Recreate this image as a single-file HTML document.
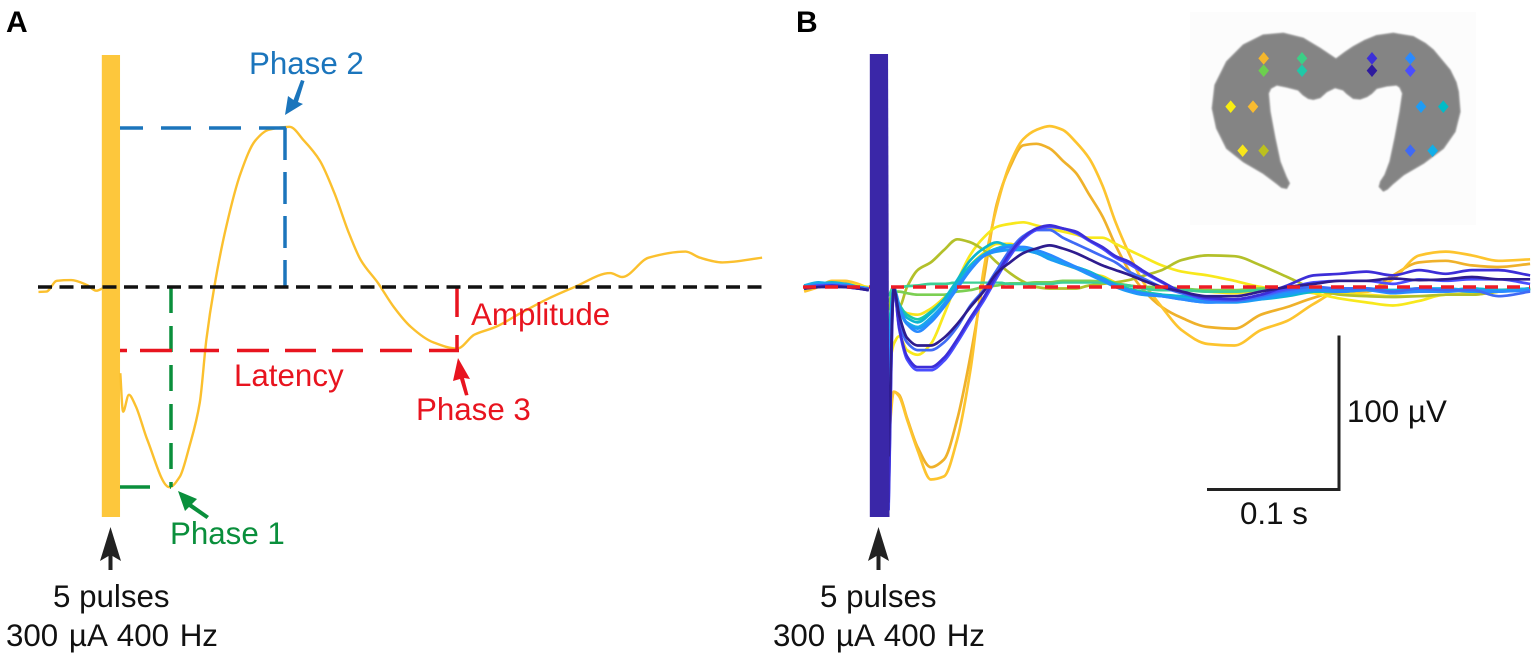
<!DOCTYPE html>
<html lang="en">
<head>
<meta charset="utf-8">
<title>Evoked potentials</title>
<style>
html,body{margin:0;padding:0;background:#fff;width:1535px;height:660px;overflow:hidden}
svg{display:block}
text{font-family:"Liberation Sans",Arial,sans-serif;font-size:31.3px}
</style>
</head>
<body>
<svg id="chart" xmlns="http://www.w3.org/2000/svg" width="1535" height="660" viewBox="0 0 1535 660">
<defs>
<filter id="soft" x="-5%" y="-5%" width="110%" height="110%"><feGaussianBlur stdDeviation="0.35"/></filter>
<filter id="softShape" x="-5%" y="-5%" width="110%" height="110%"><feGaussianBlur stdDeviation="2.4"/></filter>
</defs>

<g>
<rect x="1190" y="12" width="286" height="213" fill="#fcfcfc"/>
<g transform="translate(1180,5) scale(0.3333)">
<path fill="#848484" stroke="#929292" stroke-width="4" stroke-linejoin="round" filter="url(#softShape)" d="M468 162 L495 142 L520 125 L555 106 L590 92 L640 85 L700 95 L735 115 L760 135 L810 195 L828 232 L835 260 L840 320 L825 380 L790 430 L730 475 L670 510 L640 535 L622 552 L610 558 L598 545 L602 530 L615 510 L630 470 L645 400 L660 320 L668 265 L660 247 L650 240 L620 243 L590 250 L575 265 L560 275 L540 282 L520 280 L500 265 L490 255 L465 248 L440 260 L420 278 L400 283 L385 280 L370 270 L355 255 L320 246 L290 240 L272 250 L265 265 L270 320 L285 400 L300 470 L318 515 L328 535 L320 550 L305 547 L290 535 L250 505 L190 470 L140 430 L110 370 L97 310 L105 240 L140 170 L190 120 L250 90 L310 85 L370 100 L420 130 Z"/>
<g stroke="none">
<path fill="#f4b62c" d="M251 141l16 19l-16 19l-16-19z"/>
<path fill="#6cd04e" d="M251 178l16 19l-16 19l-16-19z"/>
<path fill="#3ccf86" d="M366 141l16 19l-16 19l-16-19z"/>
<path fill="#1fc8a8" d="M366 178l16 19l-16 19l-16-19z"/>
<path fill="#3c2fd8" d="M576 141l16 19l-16 19l-16-19z"/>
<path fill="#2e1a9e" d="M576 178l16 19l-16 19l-16-19z"/>
<path fill="#2a8aff" d="M691 141l16 19l-16 19l-16-19z"/>
<path fill="#4a4eff" d="M691 178l16 19l-16 19l-16-19z"/>
<path fill="#f8ee10" d="M152 286l16 19l-16 19l-16-19z"/>
<path fill="#f9bb30" d="M219 286l16 19l-16 19l-16-19z"/>
<path fill="#1e9cf5" d="M723 286l16 19l-16 19l-16-19z"/>
<path fill="#00bcc8" d="M790 286l16 19l-16 19l-16-19z"/>
<path fill="#f8e61a" d="M188 418l16 19l-16 19l-16-19z"/>
<path fill="#bcc01e" d="M251 418l16 19l-16 19l-16-19z"/>
<path fill="#3f6af5" d="M691 418l16 19l-16 19l-16-19z"/>
<path fill="#12aee8" d="M758 418l16 19l-16 19l-16-19z"/>
</g>
</g>
</g>

<g id="layerA"></g>

<g fill="none" stroke-width="3.5">
<path stroke="#1b75bc" stroke-dasharray="23 18 30 18 32 18 30 0" d="M120 128H286"/>
<path stroke="#1b75bc" stroke-dasharray="32 12" d="M285 128V287"/>
<path stroke="#0a8f3c" stroke-dasharray="30 20" d="M120 487H171"/>
<path stroke="#0a8f3c" stroke-dasharray="26 13" d="M171 287V487"/>
<path stroke="#e8141f" stroke-dasharray="7 13 32 18 29 18 32 16 31 16 31 17 32 17 30 0" d="M120 350.5H459"/>
<path stroke="#e8141f" stroke-dasharray="30 18 16 0" d="M457 287V351"/>
<path stroke="#111" stroke-dasharray="14 7.5" d="M38 287H762"/>
</g>

<g>
<path fill="#1b75bc" d="M285 115L288 96L293.5 100L301 80L304.500 81L298 102L303 104Z"/>
<path fill="#0a8f3c" d="M178 491L197 499L192 504L209 516L206.500 519L189 507L185 511Z"/>
<path fill="#e8141f" d="M458 358L470 379L464 378L468.500 395L465 395.500L460 379L453 381Z"/>
<path fill="#222" d="M110.500 527L121 561L112.500 556V570H108.500V556L100 561Z"/>
</g>

<g>
<text x="6" y="32" font-weight="bold" style="font-size:30px" fill="#000">A</text>
<text x="249" y="74" fill="#1b75bc">Phase 2</text>
<text x="471" y="325" fill="#e8141f">Amplitude</text>
<text x="234" y="386" fill="#e8141f">Latency</text>
<text x="416" y="420" fill="#e8141f">Phase 3</text>
<text x="170" y="544" fill="#0a8f3c">Phase 1</text>
<text x="53" y="607" fill="#111">5 pulses</text>
<text x="6" y="646" fill="#111" style="word-spacing:2px">300 µA 400 Hz</text>
</g>

<g id="layerB"></g>

<g>
<path fill="#222" d="M878.500 527L889 561L880.500 556V570H876.500V556L868 561Z"/>
<text x="796" y="32" font-weight="bold" style="font-size:30px" fill="#000">B</text>
<text x="820" y="607" fill="#111">5 pulses</text>
<text x="773" y="646" fill="#111" style="word-spacing:2px">300 µA 400 Hz</text>
<text x="1347" y="422" fill="#111">100 µV</text>
<text x="1240" y="524" fill="#111">0.1 s</text>
</g>
</svg>

<script>
// Panel A: representative trace (time in ms after stimulus, amplitude in µV)
const aTime = [-54.2,-48.2,-40.3,-29.4,-17.5,-10.5,-3.6,7.8,9.9,14.3,19.3,28.2,45,53,60,68,73,79,88,99,110,120,136,147,159,170,181,190,203,215,228,245,263,276,292,311,330,352,379,388,408,436,447,464,494];
const aValue = [-3.2,-3,4,4.5,1.3,-2.4,0,-56,-81,-70,-77,-99,-130,-123,-104,-75,-34,0,39,74,95,102,104,95,82,61,35,17.5,2.6,-13,-26,-36,-40,-31,-26,-17,-8.4,0,9,6.5,19,23,19,16,19];

// Panel B: shared time grid (ms)
const bTime = [-56,-45,-35,-25,-15,-7,8,12,16,22,30,40,50,60,70,80,90,100,110,120,130,140,150,160,170,180,190,200,215,230,250,270,290,310,330,350,370,390,410,430,450,470,494];

// Panel B: one amplitude array (µV) per electrode
const amberLow = [-2,1,3,3,1,-1,-91,-68,-70,-85,-104,-117,-112,-86,-45,4.5,54,78,92,93,90,82,74,60,46,27,11,-1,-13,-20,-26,-27,-18,-13,-7,-3,-3,7.5,16,17,14,13,15];
const amberHigh = [-3,0,4,4,2,-1,-101,-68,-71,-86,-106,-125,-123,-99,-54,11,52,80,96,102,104.5,102,94,83.5,66,42,22,4.5,-13,-28,-37,-38,-28,-22,-11,-3,-3,5,20.5,23,20.5,17,18];
const yellowA = [-1,1,2,2,1,0,-54,-37,-32,-41,-44,-37,-18,3.5,21,32,39,41,42,40,38,36,34,32,32,28,24,20,14,10,7.5,4,0,-2,-4,-7.5,-10,-12,-9,-5,-5,-3,-1];
const yellowB = [0,1,1,2,0,-1,-32,-6,-13,-17,-18,-14,-7,1,14,22,28,28,25,22,19,15,12,9,7,3,1,0,-2,-2,-3,-4,-2,-1,-1,-4,-5,-6,-6,-5,-4,-2,-1];
const oliveTrace = [-1,0,1,1,0,-1,-15,-3,-13,0,11,16,24,31,29,24,16,9,3.5,0,-1,-1,-1,1,2,3,4.5,7,11,17.5,20.5,20,14,6.5,-1,-5,-6,-6.500,-6,-5,-5,-3,-1];
const lightGreen = [-1,0,1,0,0,-1,-10,-3,-3,-4,-5,-5,-5,-3,-2,0,1,2.4,2.4,3,3,4,4,4,3.5,2,1,0,0,-1,-2,-2,-1,-1,-1,-2,-2,-3,-2,-2,-2,-2,-1];
const seaGreen = [0,1,1,1,0,-1,-6,0,0,0.5,1,2,2,3,3,3,3,2,2,2,2,3,3,3,3,2,1,-1,-2,-2,-3,-3,-2,-2,-1,-2,-2,-3,-2,-2,-2,-2,-2];
const tealTrace = [1,2,2,1,0,-1,-30,0,-11,-18,-21,-16,-8,3,14,21,25,27,25,23,20,16,13,10,6,2,-1,-3,-5,-7,-8,-8,-7,-5,-3,-3,-2,-3,-2,-2,-1,-2,-2];
const cyanTrace = [1,2,3,2,0,-1,-37,-1,-13,-20,-23,-17,-8,4.5,17.5,25,29,26,24,22,19,15,13,10,5.5,1,-2,-4,-5,-6,-8,-9,-8,-6,-3,-2,-1,-2,-1,-2,-1,-2,-1];
const azureTrace = [1,3,2,2,0,-1,-45,-1,-14,-23,-26,-20,-11,1,13,21,25,27,24,23,19,16,13,9,5,0,-2,-4,-6,-7,-9,-9,-7,-4,-2,-1,-1,-2,-1,-1,-2,-2,-1];
const skyTrace = [0,2,2,1,0,-1,-50,-1,-14,-24,-27,-21,-11,1,12,20,23,24,24,22,18,15,12,8,4,0,-3,-5,-6,-8,-10,-10,-8,-5,-2,-3,-2,-3,-2,-2,-3,-3,-2];
const blueTrace = [0,1,2,1,0,-1,-60,-1,-12,-24,-29,-23,-13,-1,11,20,24,26,26,24,21,17,13,9,5,1,-2,-4,-6,-8,-10,-9,-7,-3,-2,-3,-2,-4,-3,-3,-2,-3,-2];
const royalTrace = [0,1,1,1,-1,-1,-100,-1,-22,-36,-41,-41,-36,-26,-12,-2,11,24,33,37,37,32,28,24,20,16,10,6,0,-4,-8,-9,-6,-2,0,-1,-1,-3,-1,-2,-2,-6,-3];
const navyTrace = [-1,0,0,0,-1,-2,-110,-1,-18,-33,-38,-38,-33,-24,-13,-3,9,16,22,25,27,25,22,18,14,11,8,4.5,0,-3,-6,-6,-3,0,2,4,4,5.5,4.5,5,6.5,5,5];
const indigoTrace = [-1,0,1,0,-1,-2,-140,-1,-26,-45,-52,-52,-46,-34,-20,-7,8,22,32,38,40,38,36,30.5,26,20,16.5,11,3.5,-3,-7,-8,-5,1,7.500,8.600,10,7.500,11,8.600,11,11,7.500];
const periwinkleTrace = [-1,1,1,0,-1,-2,-145,-1,-27,-47,-54,-54,-48,-36,-22,-9,6,20,31,37,39,38,35,30,25,19,15,10,3,-3,-8,-8,-5,-1,3,4,4,2,5,4,5,5,2];

// Panel B: draw order
const bSeries = [amberLow,amberHigh,yellowA,yellowB,oliveTrace,lightGreen,seaGreen,tealTrace,cyanTrace,azureTrace,skyTrace,blueTrace,royalTrace,periwinkleTrace,indigoTrace,navyTrace];
const bNames = ['amber-low','amber-high','yellow-a','yellow-b','olive','light-green','sea-green','teal','cyan','azure','sky','blue','royal','periwinkle','indigo','navy'];
const bColors = ['#efb12c','#fdc42f','#f8e81c','#f8e31a','#b3c02a','#7ccf52','#3ccf96','#1fc8a8','#0cb6cf','#12aee8','#1e9cf5','#2a8aff','#3f6af5','#4a4eff','#3c2fd8','#2e1a8e'];

// Stimulus window (ms) and scale bar lengths
const stimWindow = [-6.2, 7.6];
const scaleBar = [100, 100];

const NS = 'http://www.w3.org/2000/svg';
const pxPerMs = 1.32, pxPerUv = 1.54;
function timeAxis(x0){ return function(t){ return x0 + t * pxPerMs; }; }
function voltAxis(v){ return 287 - v * pxPerUv; }

// Monotone cubic through a run of points (no overshoot at the sharp stimulus edges)
function monotoneRun(pts){
  const n = pts.length;
  const h = [], s = [], m = [];
  for (let i = 0; i < n - 1; i++) {
    h[i] = pts[i + 1][0] - pts[i][0];
    s[i] = (pts[i + 1][1] - pts[i][1]) / h[i];
  }
  m[0] = s[0];
  m[n - 1] = s[n - 2];
  for (let i = 1; i < n - 1; i++) {
    if (s[i - 1] * s[i] <= 0) { m[i] = 0; continue; }
    m[i] = 3 * (h[i - 1] + h[i]) / ((2 * h[i] + h[i - 1]) / s[i - 1] + (h[i] + 2 * h[i - 1]) / s[i]);
  }
  let d = 'M' + pts[0][0].toFixed(1) + ' ' + pts[0][1].toFixed(1);
  for (let i = 0; i < n - 1; i++) {
    d += 'C' + (pts[i][0] + h[i] / 3).toFixed(1) + ' ' + (pts[i][1] + m[i] * h[i] / 3).toFixed(1) + ' ' +
         (pts[i + 1][0] - h[i] / 3).toFixed(1) + ' ' + (pts[i + 1][1] - m[i + 1] * h[i] / 3).toFixed(1) + ' ' +
         pts[i + 1][0].toFixed(1) + ' ' + pts[i + 1][1].toFixed(1);
  }
  return d;
}
function tracePath(ts, vs, sx){
  const pre = [], post = [];
  ts.forEach(function(t, i){
    (t < 0 ? pre : post).push([sx(t), voltAxis(vs[i])]);
  });
  return monotoneRun(pre) + monotoneRun(post);
}
function makeEl(tag, parent, attrs){
  const el = document.createElementNS(NS, tag);
  Object.keys(attrs).forEach(function(k){ el.setAttribute(k, attrs[k]); });
  parent.appendChild(el);
  return el;
}

// Panel A
const layerA = document.getElementById('layerA');
const xA = timeAxis(110);
const barA = makeEl('rect', layerA, {x: xA(stimWindow[0]), y: 55, width: xA(stimWindow[1]) - xA(stimWindow[0]), height: 462, fill: '#fdc73c'});


const traceA = makeEl('path', layerA, {d: tracePath(aTime, aValue, xA), fill: 'none', stroke: '#fbc02d', 'stroke-width': 2.4, 'stroke-linejoin': 'round', filter: 'url(#soft)'});



// Panel B
const layerB = document.getElementById('layerB');
const xB = timeAxis(878);
bSeries.forEach(function(values, i){
  const line = makeEl('path', layerB, {d: tracePath(bTime, values, xB), fill: 'none', stroke: bColors[i], 'stroke-width': 2.7, 'stroke-linejoin': 'round', filter: 'url(#soft)'});
  
  
});
const baseB = makeEl('path', layerB, {d: 'M803 287H1530', fill: 'none', stroke: '#ee1c25', 'stroke-width': 3.5, 'stroke-dasharray': '13 9'});


const barB = makeEl('path', layerB, {d: 'M' + xB(stimWindow[0]) + ' 54H' + xB(stimWindow[1]) + 'L' + (xB(stimWindow[1]) + 1.5) + ' 517H' + xB(stimWindow[0]) + 'Z', fill: '#3a27a8'});



// Scale bars
const scaleCornerX = 1339, scaleCornerY = 489.5;
const scalePath = makeEl('path', layerB, {d: 'M' + (scaleCornerX - scaleBar[0] * pxPerMs) + ' ' + scaleCornerY + 'H' + scaleCornerX + 'V' + (scaleCornerY - scaleBar[1] * pxPerUv), fill: 'none', stroke: '#222', 'stroke-width': 3});


</script>
</body>
</html>
